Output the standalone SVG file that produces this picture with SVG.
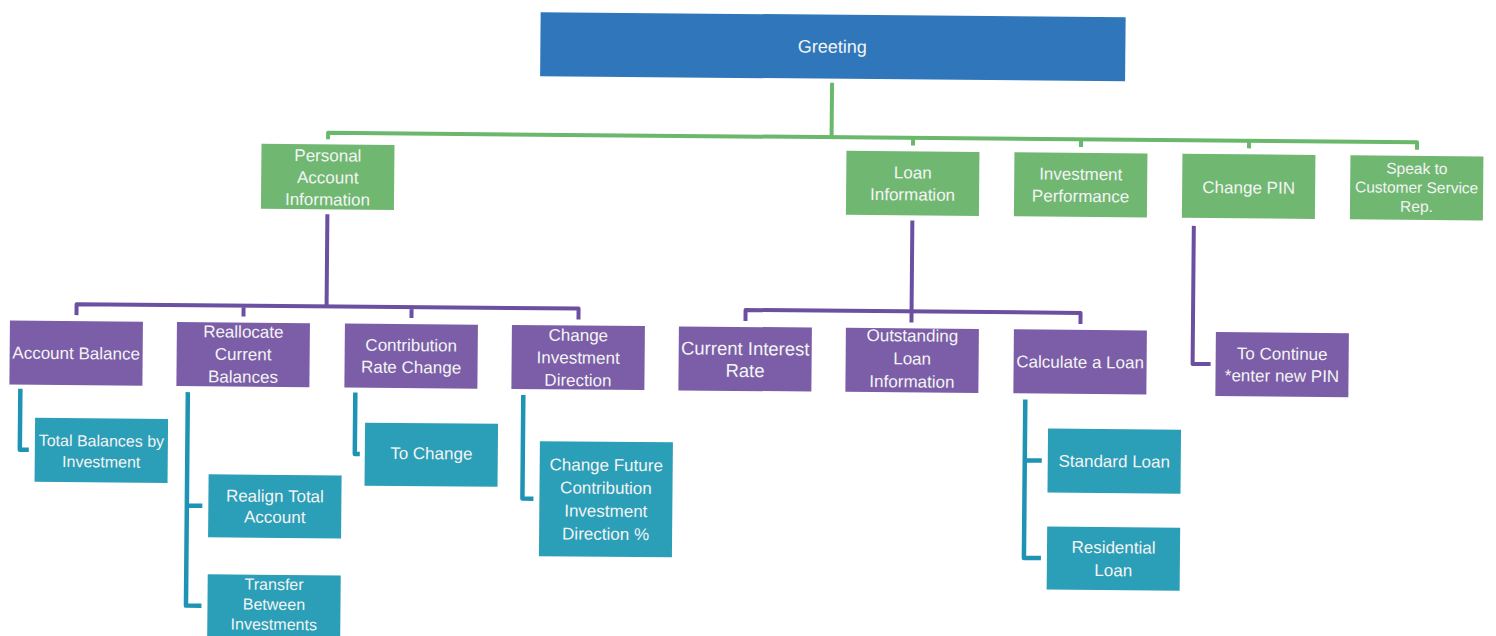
<svg xmlns="http://www.w3.org/2000/svg" width="1496" height="636" viewBox="0 0 1496 636">
<style>
  .t { font-family: "Liberation Sans", Arial, sans-serif; font-size: 17px; fill: #f4f4f4; text-anchor: middle; }
  .sm { font-size: 15.5px; }
  .md { font-size: 16px; }
  .blue { fill: #2f77ba; }
  .green { fill: #70b872; }
  .purple { fill: #7b5ea7; }
  .teal { fill: #2b9eb8; }
  .cg { fill: none; stroke: #6ab86c; stroke-width: 4; stroke-linejoin: round; }
  .cp { fill: none; stroke: #6b4fa0; stroke-width: 4; stroke-linejoin: round; }
  .ct { fill: none; stroke: #1f93b3; stroke-width: 4.5; stroke-linejoin: round; }
</style>
<rect width="1496" height="636" fill="#ffffff"/>
<g transform="rotate(0.5 748 318)">
  <g id="connectors">
    <path class="cg" d="M830 82 V136.5"/>
    <path class="cg" d="M326.5 143 V136.5 H1415.5 V144"/>
    <path class="cg" d="M911.5 136.5 V144 M1079.5 136.5 V144 M1247.5 136.5 V144"/>
    <path class="cp" d="M326.5 218 V310"/>
    <path class="cp" d="M76.5 321 V310 H578.5 V321 M243.5 310 V321 M411.5 310 V321"/>
    <path class="cp" d="M911.5 219 V321"/>
    <path class="cp" d="M745.5 321 V310 H1080.5 V321"/>
    <path class="cp" d="M1193 222 V360 H1211"/>
    <path class="ct" d="M21 395 V456 H30"/>
    <path class="ct" d="M188.5 397 V610.5 H204 M188.5 510.5 H204"/>
    <path class="ct" d="M356 396 V457.5 H361"/>
    <path class="ct" d="M524 397 V500.5 H535"/>
    <path class="ct" d="M1026 397 V555.5 H1043 M1026 458 H1043"/>
  </g>

  <g id="greeting">
    <rect class="blue" x="538" y="14" width="585" height="64"/>
    <text class="t" x="830" y="52" style="font-size:18px">Greeting</text>
  </g>

  <g id="personal-account-information">
    <rect class="green" x="260" y="148" width="133" height="65"/>
    <text class="t" x="326.5" y="165">Personal</text>
    <text class="t" x="326.5" y="187">Account</text>
    <text class="t" x="326.5" y="209">Information</text>
  </g>
  <g id="loan-information">
    <rect class="green" x="845" y="150" width="133" height="64"/>
    <text class="t" x="911.5" y="177">Loan</text>
    <text class="t" x="911.5" y="199">Information</text>
  </g>
  <g id="investment-performance">
    <rect class="green" x="1013" y="150" width="133" height="64"/>
    <text class="t" x="1079.5" y="177">Investment</text>
    <text class="t" x="1079.5" y="199">Performance</text>
  </g>
  <g id="change-pin">
    <rect class="green" x="1181" y="150" width="133" height="64"/>
    <text class="t" x="1247.5" y="189">Change PIN</text>
  </g>
  <g id="speak-to-customer-service-rep">
    <rect class="green" x="1349" y="150" width="133" height="64"/>
    <text class="t sm" x="1415.5" y="168">Speak to</text>
    <text class="t sm" x="1415.5" y="187">Customer Service</text>
    <text class="t sm" x="1415.5" y="206">Rep.</text>
  </g>

  <g id="account-balance">
    <rect class="purple" x="10" y="327" width="133" height="64"/>
    <text class="t" x="76.5" y="365">Account Balance</text>
  </g>
  <g id="reallocate-current-balances">
    <rect class="purple" x="177" y="327" width="133" height="64"/>
    <text class="t" x="243.5" y="342">Reallocate</text>
    <text class="t" x="243.5" y="364.5">Current</text>
    <text class="t" x="243.5" y="387">Balances</text>
  </g>
  <g id="contribution-rate-change">
    <rect class="purple" x="345" y="327" width="133" height="64"/>
    <text class="t" x="411.5" y="354">Contribution</text>
    <text class="t" x="411.5" y="376">Rate Change</text>
  </g>
  <g id="change-investment-direction">
    <rect class="purple" x="512" y="327" width="133" height="64"/>
    <text class="t" x="578.5" y="342.5">Change</text>
    <text class="t" x="578.5" y="365">Investment</text>
    <text class="t" x="578.5" y="387.5">Direction</text>
  </g>
  <g id="current-interest-rate">
    <rect class="purple" x="679" y="327" width="133" height="64"/>
    <text class="t" x="745.5" y="355" style="font-size:18.5px">Current Interest</text>
    <text class="t" x="745.5" y="377" style="font-size:18.5px">Rate</text>
  </g>
  <g id="outstanding-loan-information">
    <rect class="purple" x="846" y="327" width="133" height="64"/>
    <text class="t" x="912.5" y="340">Outstanding</text>
    <text class="t" x="912.5" y="363">Loan</text>
    <text class="t" x="912.5" y="386">Information</text>
  </g>
  <g id="calculate-a-loan">
    <rect class="purple" x="1014" y="327" width="133" height="64"/>
    <text class="t" x="1080.5" y="365">Calculate a Loan</text>
  </g>
  <g id="to-continue">
    <rect class="purple" x="1216" y="328" width="133" height="64"/>
    <text class="t" x="1282.5" y="355">To Continue</text>
    <text class="t" x="1282.5" y="377">*enter new PIN</text>
  </g>

  <g id="total-balances-by-investment">
    <rect class="teal" x="36" y="424" width="133" height="64"/>
    <text class="t md" x="102.5" y="452">Total Balances by</text>
    <text class="t md" x="102.5" y="473">Investment</text>
  </g>
  <g id="realign-total-account">
    <rect class="teal" x="210" y="479" width="133" height="63"/>
    <text class="t" x="276.5" y="506">Realign Total</text>
    <text class="t" x="276.5" y="527">Account</text>
  </g>
  <g id="transfer-between-investments">
    <rect class="teal" x="210" y="579" width="133" height="64"/>
    <text class="t md" x="276.5" y="594">Transfer</text>
    <text class="t md" x="276.5" y="614">Between</text>
    <text class="t md" x="276.5" y="634">Investments</text>
  </g>
  <g id="to-change">
    <rect class="teal" x="366" y="426" width="133" height="63"/>
    <text class="t" x="432.5" y="462">To Change</text>
  </g>
  <g id="change-future-contribution">
    <rect class="teal" x="541" y="443" width="133" height="115"/>
    <text class="t" x="607.5" y="472">Change Future</text>
    <text class="t" x="607.5" y="495">Contribution</text>
    <text class="t" x="607.5" y="518">Investment</text>
    <text class="t" x="607.5" y="541">Direction %</text>
  </g>
  <g id="standard-loan">
    <rect class="teal" x="1049" y="426" width="133" height="64"/>
    <text class="t" x="1115.5" y="464">Standard Loan</text>
  </g>
  <g id="residential-loan">
    <rect class="teal" x="1049" y="524" width="133" height="63"/>
    <text class="t" x="1115.5" y="550">Residential</text>
    <text class="t" x="1115.5" y="573">Loan</text>
  </g>
</g>
</svg>
